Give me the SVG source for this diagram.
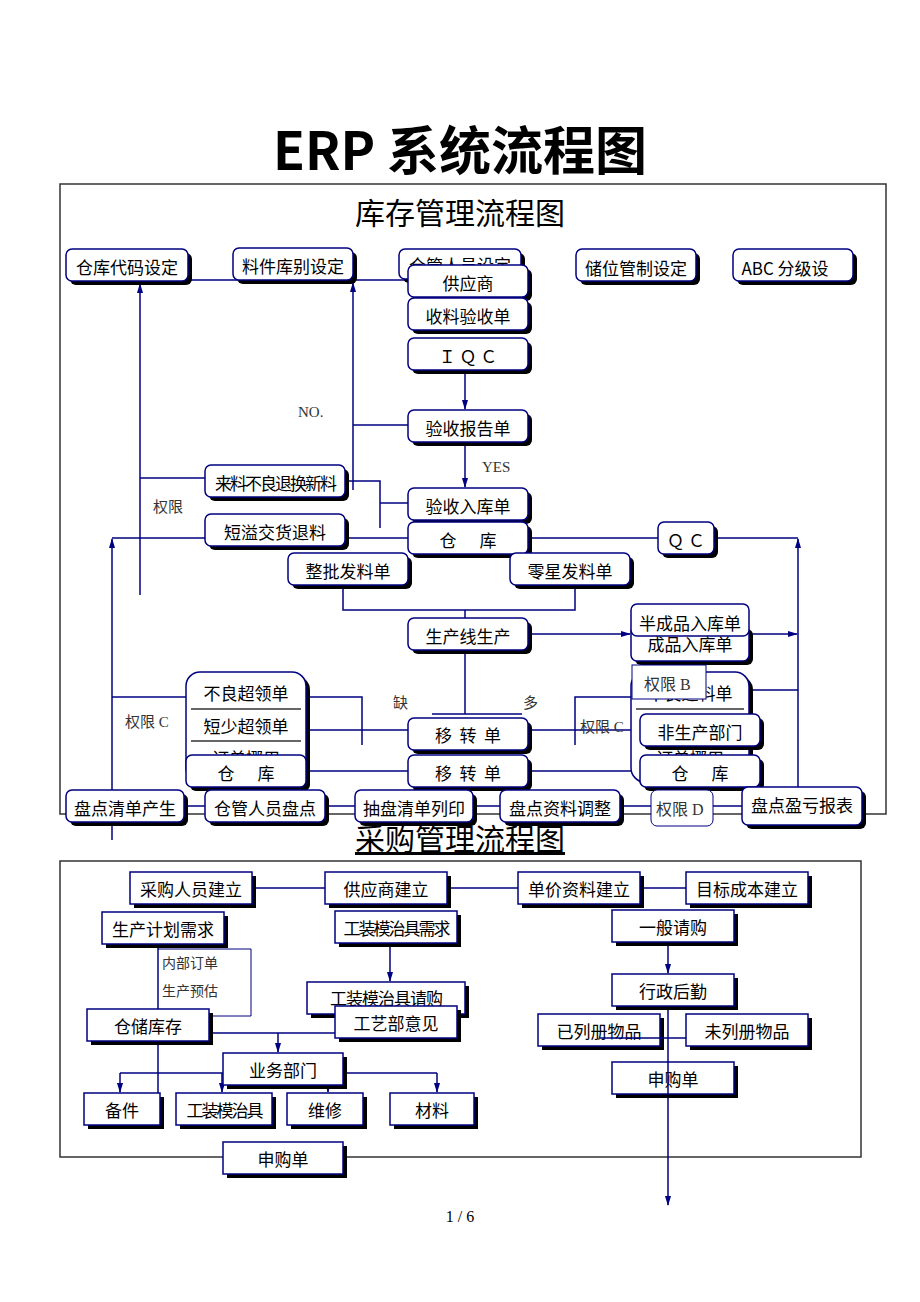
<svg xmlns="http://www.w3.org/2000/svg" width="920" height="1302" viewBox="0 0 920 1302">
<style>
.n rect.b{fill:#fff;stroke:#000080;stroke-width:1.5}
.n rect.s{fill:#000}
text{font-family:"Noto Sans CJK SC","Liberation Sans",sans-serif;fill:#000}
.t{font-size:17px;text-anchor:middle}
.l{font-family:"Liberation Serif","Noto Sans CJK SC",serif;font-size:15px;fill:#333}
#c line,#c polyline{stroke:#000080;stroke-width:1.5;fill:none}
.f{fill:none;stroke:#333;stroke-width:1.5}
</style>
<defs><marker id="a" viewBox="0 0 10 10" refX="9" refY="5" markerWidth="7" markerHeight="7" orient="auto"><path d="M0,2 L10,5 L0,8z" fill="#000080"/></marker></defs>
<rect width="920" height="1302" fill="#fff"/>
<text x="460" y="170" style="font-size:52px;font-weight:bold" text-anchor="middle">ERP 系统流程图</text>
<rect x="60" y="184" width="826" height="630" class="f"/>
<text x="460" y="224" style="font-size:30px" text-anchor="middle">库存管理流程图</text>
<rect x="60" y="861" width="801" height="296" class="f"/>
<text x="460" y="850" style="font-size:30px;text-decoration:underline" text-anchor="middle">采购管理流程图</text>
<text x="460" y="1222" style="font-family:'Liberation Serif',serif;font-size:16px" text-anchor="middle">1 / 6</text>

<g id="c">
<line x1="188" y1="280" x2="408" y2="280"/>
<line x1="140" y1="595" x2="140" y2="284" marker-end="url(#a)"/>
<line x1="140" y1="478" x2="205" y2="478"/>
<line x1="353" y1="490" x2="353" y2="283" marker-end="url(#a)"/>
<line x1="353" y1="425" x2="408" y2="425"/>
<polyline points="345,481 380,481 380,528"/>
<line x1="380" y1="503" x2="408" y2="503"/>
<line x1="465" y1="370" x2="465" y2="409" marker-end="url(#a)"/>
<line x1="465" y1="442" x2="465" y2="487" marker-end="url(#a)"/>
<line x1="465" y1="520" x2="465" y2="553" marker-end="url(#a)"/>
<line x1="112" y1="840" x2="112" y2="539" marker-end="url(#a)"/>
<line x1="112" y1="538" x2="408" y2="538"/>
<line x1="528" y1="538" x2="658" y2="538"/>
<line x1="714" y1="538" x2="798" y2="538"/>
<line x1="798" y1="815" x2="798" y2="539" marker-end="url(#a)"/>
<polyline points="343,585 343,610 575,610 575,585"/>
<line x1="465" y1="610" x2="465" y2="714"/>
<line x1="528" y1="634" x2="630" y2="634" marker-end="url(#a)"/>
<line x1="749" y1="634" x2="797" y2="634" marker-end="url(#a)"/>
<line x1="112" y1="697" x2="186" y2="697"/>
<polyline points="306,697 362,697 362,745"/>
<line x1="306" y1="730" x2="408" y2="730"/>
<line x1="432" y1="714" x2="522" y2="714"/>
<polyline points="575,745 575,697 631,697"/>
<line x1="528" y1="730" x2="640" y2="730"/>
<line x1="749" y1="690" x2="798" y2="690"/>
<line x1="306" y1="771" x2="408" y2="771"/>
<line x1="528" y1="771" x2="640" y2="771"/>
<line x1="184" y1="806" x2="742" y2="806"/>
<line x1="252" y1="888" x2="686" y2="888"/>
<line x1="158" y1="944" x2="158" y2="1125"/>
<polyline points="158,949 251,949 251,1016 209,1016" style="stroke-width:1"/>
<line x1="390" y1="944" x2="390" y2="981" marker-end="url(#a)"/>
<line x1="278" y1="1033" x2="278" y2="1052" marker-end="url(#a)"/>
<line x1="209" y1="1033" x2="370" y2="1033"/>
<line x1="120" y1="1073" x2="437" y2="1073"/>
<line x1="120" y1="1073" x2="120" y2="1092" marker-end="url(#a)"/>
<line x1="222" y1="1073" x2="222" y2="1092" marker-end="url(#a)"/>
<line x1="328" y1="1073" x2="328" y2="1092" marker-end="url(#a)"/>
<line x1="437" y1="1073" x2="437" y2="1092" marker-end="url(#a)"/>
<line x1="668" y1="944" x2="668" y2="973" marker-end="url(#a)"/>
<line x1="668" y1="1006" x2="668" y2="1205" marker-end="url(#a)"/>
</g>

<text class="l" x="298" y="417">NO.</text>
<text class="l" x="482" y="472">YES</text>
<text class="l" x="153" y="512">权限</text>
<text class="l" x="125" y="727">权限 C</text>
<text class="l" x="580" y="732">权限 C</text>
<text class="l" x="393" y="708">缺</text>
<text class="l" x="523" y="708">多</text>
<text class="l" x="162" y="968" style="font-size:14px">内部订单</text>
<text class="l" x="162" y="996" style="font-size:14px">生产预估</text>

<g class="n">
<g id="n1"><rect class="s" x="70" y="253" width="122" height="32" rx="6"/><rect class="b" x="66" y="249" width="122" height="32" rx="6"/><text class="t" x="127" y="274">仓库代码设定</text></g>
<g id="n2"><rect class="s" x="237" y="252" width="120" height="32" rx="6"/><rect class="b" x="233" y="248" width="120" height="32" rx="6"/><text class="t" x="293" y="273">料件库别设定</text></g>
<g id="n3"><rect class="s" x="403" y="253" width="122" height="30" rx="6"/><rect class="b" x="399" y="249" width="122" height="30" rx="6"/><text class="t" x="460" y="272">仓管人员设定</text></g>
<g id="n4"><rect class="s" x="580" y="253" width="120" height="32" rx="6"/><rect class="b" x="576" y="249" width="120" height="32" rx="6"/><text class="t" x="636" y="275">储位管制设定</text></g>
<g id="n5"><rect class="s" x="737" y="253" width="120" height="32" rx="6"/><rect class="b" x="733" y="249" width="120" height="32" rx="6"/><text class="t" x="785" y="275">ABC 分级设</text></g>
<g id="n6"><rect class="s" x="412" y="269" width="120" height="32" rx="6"/><rect class="b" x="408" y="265" width="120" height="32" rx="6"/><text class="t" x="468" y="290">供应商</text></g>
<g id="n7"><rect class="s" x="412" y="302" width="120" height="32" rx="6"/><rect class="b" x="408" y="298" width="120" height="32" rx="6"/><text class="t" x="468" y="323">收料验收单</text></g>
<g id="n8"><rect class="s" x="412" y="342" width="120" height="32" rx="6"/><rect class="b" x="408" y="338" width="120" height="32" rx="6"/><text class="t" x="468" y="363">Ｉ Ｑ Ｃ</text></g>
<g id="n9"><rect class="s" x="412" y="414" width="120" height="32" rx="6"/><rect class="b" x="408" y="410" width="120" height="32" rx="6"/><text class="t" x="468" y="435">验收报告单</text></g>
<g id="n10"><rect class="s" x="209" y="469" width="140" height="32" rx="6"/><rect class="b" x="205" y="465" width="140" height="32" rx="6"/><text class="t" x="275" y="490" style="letter-spacing:-2px">来料不良退换新料</text></g>
<g id="n11"><rect class="s" x="412" y="492" width="120" height="32" rx="6"/><rect class="b" x="408" y="488" width="120" height="32" rx="6"/><text class="t" x="468" y="513">验收入库单</text></g>
<g id="n12"><rect class="s" x="209" y="518" width="140" height="32" rx="6"/><rect class="b" x="205" y="514" width="140" height="32" rx="6"/><text class="t" x="275" y="539">短溢交货退料</text></g>
<g id="n13"><rect class="s" x="412" y="526" width="120" height="32" rx="6"/><rect class="b" x="408" y="522" width="120" height="32" rx="6"/><text class="t" x="468" y="547" xml:space="preserve">仓      库</text></g>
<g id="n14"><rect class="s" x="662" y="526" width="56" height="32" rx="6"/><rect class="b" x="658" y="522" width="56" height="32" rx="6"/><text class="t" x="686" y="547">Ｑ Ｃ</text></g>
<g id="n15"><rect class="s" x="292" y="557" width="120" height="32" rx="6"/><rect class="b" x="288" y="553" width="120" height="32" rx="6"/><text class="t" x="348" y="578">整批发料单</text></g>
<g id="n16"><rect class="s" x="514" y="557" width="120" height="32" rx="6"/><rect class="b" x="510" y="553" width="120" height="32" rx="6"/><text class="t" x="570" y="578">零星发料单</text></g>
<g id="n17"><rect class="s" x="412" y="622" width="120" height="32" rx="6"/><rect class="b" x="408" y="618" width="120" height="32" rx="6"/><text class="t" x="468" y="643">生产线生产</text></g>
<g id="n18"><rect class="s" x="635" y="629" width="118" height="36" rx="6"/><rect class="b" x="631" y="625" width="118" height="36" rx="6"/><text class="t" x="690" y="651">成品入库单</text></g>
<g id="n19"><rect class="b" x="631" y="604" width="118" height="32" rx="6"/><text class="t" x="690" y="630">半成品入库单</text></g>
<g id="n20"><rect class="s" x="190" y="676" width="120" height="110" rx="14"/><rect class="b" x="186" y="672" width="120" height="110" rx="14"/><line x1="191" y1="709" x2="301" y2="709" stroke="#333" stroke-width="1.5"/><line x1="191" y1="741" x2="301" y2="741" stroke="#333" stroke-width="1.5"/><text class="t" x="246" y="700">不良超领单</text><text class="t" x="246" y="733">短少超领单</text><text class="t" x="246" y="765">订单挪用</text></g>
<g id="n21"><rect class="s" x="635" y="676" width="118" height="110" rx="14"/><rect class="b" x="631" y="672" width="118" height="110" rx="14"/><line x1="636" y1="709" x2="744" y2="709" stroke="#333" stroke-width="1.5"/><text class="t" x="690" y="700">不良退料单</text><text class="t" x="690" y="765">订单挪用</text></g>
<g id="n22"><rect x="632" y="665" width="74" height="34" fill="#fff" stroke="#000080"/><text class="l" x="644" y="690" style="font-size:16px">权限 B</text></g>
<g id="n23"><rect class="s" x="644" y="718" width="120" height="32" rx="6"/><rect class="b" x="640" y="714" width="120" height="32" rx="6"/><text class="t" x="700" y="739">非生产部门</text></g>
<g id="n24"><rect class="s" x="412" y="722" width="120" height="32" rx="6"/><rect class="b" x="408" y="718" width="120" height="32" rx="6"/><text class="t" x="468" y="742" xml:space="preserve">移  转  单</text></g>
<g id="n25"><rect class="s" x="190" y="759" width="120" height="32" rx="6"/><rect class="b" x="186" y="755" width="120" height="32" rx="6"/><text class="t" x="246" y="780" xml:space="preserve">仓      库</text></g>
<g id="n26"><rect class="s" x="412" y="759" width="120" height="32" rx="6"/><rect class="b" x="408" y="755" width="120" height="32" rx="6"/><text class="t" x="468" y="780" xml:space="preserve">移  转  单</text></g>
<g id="n27"><rect class="s" x="644" y="759" width="120" height="32" rx="6"/><rect class="b" x="640" y="755" width="120" height="32" rx="6"/><text class="t" x="700" y="780" xml:space="preserve">仓      库</text></g>
<g id="n28"><rect class="s" x="70" y="794" width="118" height="32" rx="6"/><rect class="b" x="66" y="790" width="118" height="32" rx="6"/><text class="t" x="125" y="815">盘点清单产生</text></g>
<g id="n29"><rect class="s" x="209" y="794" width="120" height="32" rx="6"/><rect class="b" x="205" y="790" width="120" height="32" rx="6"/><text class="t" x="265" y="815">仓管人员盘点</text></g>
<g id="n30"><rect class="s" x="359" y="794" width="118" height="32" rx="6"/><rect class="b" x="355" y="790" width="118" height="32" rx="6"/><text class="t" x="414" y="815">抽盘清单列印</text></g>
<g id="n31"><rect class="s" x="504" y="794" width="120" height="32" rx="6"/><rect class="b" x="500" y="790" width="120" height="32" rx="6"/><text class="t" x="560" y="815">盘点资料调整</text></g>
<g id="n32"><rect x="651" y="790" width="62" height="36" rx="6" fill="#fff" stroke="#000080"/><text class="l" x="656" y="815" style="font-size:16px">权限 D</text></g>
<g id="n33"><rect class="s" x="746" y="791" width="120" height="38" rx="6"/><rect class="b" x="742" y="787" width="120" height="38" rx="6"/><text class="t" x="802" y="812">盘点盈亏报表</text></g>

<g id="p1"><rect class="s" x="134" y="876" width="122" height="32"/><rect class="b" x="130" y="872" width="122" height="32"/><text class="t" x="191" y="896">采购人员建立</text></g>
<g id="p2"><rect class="s" x="329" y="876" width="122" height="32"/><rect class="b" x="325" y="872" width="122" height="32"/><text class="t" x="386" y="896">供应商建立</text></g>
<g id="p3"><rect class="s" x="522" y="876" width="122" height="32"/><rect class="b" x="518" y="872" width="122" height="32"/><text class="t" x="579" y="896">单价资料建立</text></g>
<g id="p4"><rect class="s" x="690" y="876" width="122" height="32"/><rect class="b" x="686" y="872" width="122" height="32"/><text class="t" x="747" y="896">目标成本建立</text></g>
<g id="p5"><rect class="s" x="106" y="916" width="122" height="32"/><rect class="b" x="102" y="912" width="122" height="32"/><text class="t" x="163" y="936">生产计划需求</text></g>
<g id="p6"><rect class="s" x="339" y="915" width="122" height="32"/><rect class="b" x="335" y="911" width="122" height="32"/><text class="t" x="396" y="935" style="letter-spacing:-2px">工装模治具需求</text></g>
<g id="p7"><rect class="s" x="616" y="914" width="122" height="32"/><rect class="b" x="612" y="910" width="122" height="32"/><text class="t" x="673" y="934">一般请购</text></g>
<g id="p8"><rect class="s" x="311" y="986" width="158" height="32"/><rect class="b" x="307" y="982" width="158" height="32"/><text class="t" x="386" y="1005" style="letter-spacing:-1px">工装模治具请购</text></g>
<g id="p9"><rect class="s" x="339" y="1010" width="122" height="32"/><rect class="b" x="335" y="1006" width="122" height="32"/><text class="t" x="396" y="1030">工艺部意见</text></g>
<g id="p10"><rect class="s" x="616" y="978" width="122" height="32"/><rect class="b" x="612" y="974" width="122" height="32"/><text class="t" x="673" y="998">行政后勤</text></g>
<g id="p11"><rect class="s" x="542" y="1018" width="122" height="32"/><rect class="b" x="538" y="1014" width="122" height="32"/><text class="t" x="599" y="1038">已列册物品</text></g>
<g id="p12"><rect class="s" x="690" y="1018" width="122" height="32"/><rect class="b" x="686" y="1014" width="122" height="32"/><text class="t" x="747" y="1038">未列册物品</text></g>
<g id="p13"><rect class="s" x="91" y="1013" width="122" height="32"/><rect class="b" x="87" y="1009" width="122" height="32"/><text class="t" x="148" y="1033">仓储库存</text></g>
<g id="p14"><rect class="s" x="227" y="1057" width="120" height="32"/><rect class="b" x="223" y="1053" width="120" height="32"/><text class="t" x="283" y="1077">业务部门</text></g>
<g id="p15"><rect class="s" x="616" y="1066" width="122" height="32"/><rect class="b" x="612" y="1062" width="122" height="32"/><text class="t" x="673" y="1086">申购单</text></g>
<g id="p16"><rect class="s" x="88" y="1097" width="76" height="32"/><rect class="b" x="84" y="1093" width="76" height="32"/><text class="t" x="122" y="1117">备件</text></g>
<g id="p17"><rect class="s" x="180" y="1097" width="96" height="32"/><rect class="b" x="176" y="1093" width="96" height="32"/><text class="t" x="224" y="1117" style="letter-spacing:-2px">工装模治具</text></g>
<g id="p18"><rect class="s" x="291" y="1097" width="76" height="32"/><rect class="b" x="287" y="1093" width="76" height="32"/><text class="t" x="325" y="1117">维修</text></g>
<g id="p19"><rect class="s" x="394" y="1097" width="84" height="32"/><rect class="b" x="390" y="1093" width="84" height="32"/><text class="t" x="432" y="1117">材料</text></g>
<g id="p20"><rect class="s" x="227" y="1146" width="120" height="32"/><rect class="b" x="223" y="1142" width="120" height="32"/><text class="t" x="283" y="1166">申购单</text></g>
</g>
<line x1="668" y1="1062" x2="668" y2="1094" stroke="#000080" stroke-width="1.5"/>
<line x1="600" y1="1038" x2="686" y2="1038" stroke="#000080" stroke-width="1.5"/>
</svg>
